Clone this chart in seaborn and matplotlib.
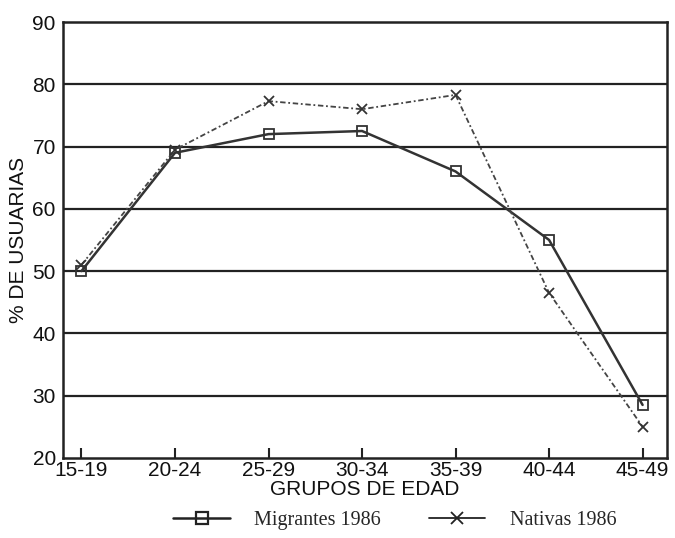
import matplotlib
matplotlib.use("Agg")
import matplotlib.pyplot as plt
import seaborn as sns
import pandas as pd
from matplotlib.lines import Line2D

categories = ["15-19", "20-24", "25-29", "30-34", "35-39", "40-44", "45-49"]
migrantes = [50.0, 69.0, 72.0, 72.5, 66.0, 55.0, 28.5]
nativas = [51.0, 69.5, 77.3, 76.0, 78.3, 46.5, 25.0]

sns.set_theme(style="white")
plt.rcParams['font.family'] = ['Liberation Sans', 'DejaVu Sans']

df = pd.DataFrame({
    "x": list(range(len(categories))) * 2,
    "y": migrantes + nativas,
    "serie": ["Migrantes 1986"] * len(categories) + ["Nativas 1986"] * len(categories),
})

fig, ax = plt.subplots(figsize=(6.75, 5.38), dpi=100)
fig.subplots_adjust(left=0.093, right=0.988, top=0.959, bottom=0.149)

for y in range(30, 90, 10):
    ax.axhline(y, color="#222222", lw=1.6, zorder=1)

sns.lineplot(data=df[df.serie == "Migrantes 1986"], x="x", y="y", ax=ax,
             color="#333333", lw=1.8, marker="s", markersize=7,
             markerfacecolor="none", markeredgecolor="#333333", markeredgewidth=1.3,
             zorder=3, legend=False)
sns.lineplot(data=df[df.serie == "Nativas 1986"], x="x", y="y", ax=ax,
             color="#444444", lw=1.3, marker="x", markersize=7,
             markeredgecolor="#333333", markeredgewidth=1.3,
             linestyle=(0, (3, 1.5, 1, 1.5)),
             zorder=3, legend=False)

ax.set_xlim(-0.2, 6.26)
ax.set_ylim(20, 90)
ax.set_xticks(range(len(categories)))
ax.set_xticklabels(categories)
ax.set_yticks(range(20, 100, 10))
ax.tick_params(axis="x", direction="in", length=7, width=1.5, color="#222222",
               labelsize=15, pad=2, bottom=True, labelcolor="#111111")
ax.tick_params(axis="y", length=0, labelsize=15, pad=5, labelcolor="#111111")
for s in ax.spines.values():
    s.set_color("#222222")
    s.set_linewidth(1.8)
ax.set_xlabel("GRUPOS DE EDAD", fontsize=15, labelpad=0, color="#111111")
ax.set_ylabel("% DE USUARIAS", fontsize=15, labelpad=3, color="#111111")

handles = [
    Line2D([], [], color="#222222", lw=1.8, marker="s", markersize=9,
           markerfacecolor="none", markeredgewidth=1.6),
    Line2D([], [], color="#222222", lw=1.3, marker="x", markersize=9,
           markeredgewidth=1.3),
]
fig.legend(handles, ["Migrantes 1986", "Nativas 1986"], loc="lower center",
           bbox_to_anchor=(0.585, -0.018), ncol=2, frameon=False,
           prop={"family": "Liberation Serif", "size": 14.5},
           handlelength=2.8, columnspacing=2.4, handletextpad=1.2)

fig.savefig("out.png", dpi=100)
